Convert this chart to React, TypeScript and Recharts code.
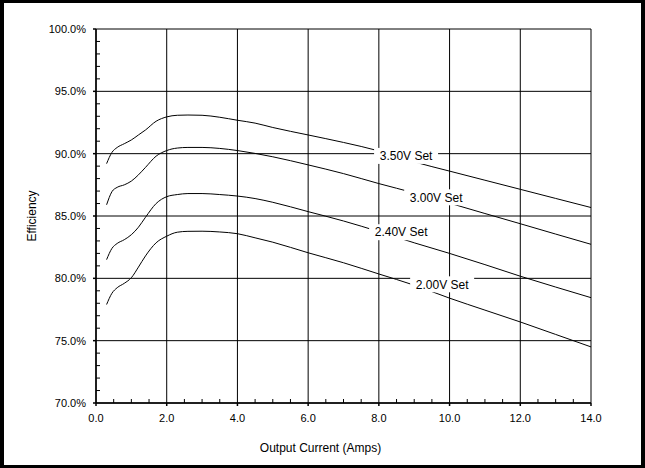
import React from 'react';
import { LineChart, Line, XAxis, YAxis, CartesianGrid, ReferenceDot, Label } from 'recharts';

// output current (A) shared by all four curves
const current = [0.3, 0.45, 0.6, 0.8, 1.0, 1.2, 1.4, 1.7, 2.0, 2.3, 2.6, 3.0, 3.5, 4.0, 4.5, 5.0, 6.0, 7.0, 8.0, 9.0, 10.0, 11.0, 12.0, 13.0, 14.0];

const eff350 = [89.2, 90.1, 90.5, 90.8, 91.1, 91.5, 91.9, 92.6, 92.95, 93.08, 93.1, 93.08, 92.92, 92.68, 92.45, 92.1, 91.5, 90.9, 90.22, 89.34, 88.6, 87.87, 87.14, 86.41, 85.68];
const eff300 = [85.9, 86.95, 87.3, 87.5, 87.8, 88.3, 88.9, 89.8, 90.25, 90.45, 90.5, 90.5, 90.42, 90.25, 90.02, 89.75, 89.1, 88.4, 87.6, 86.85, 86.03, 85.2, 84.38, 83.55, 82.73];
const eff240 = [81.5, 82.4, 82.8, 83.1, 83.5, 84.1, 84.9, 86.0, 86.55, 86.72, 86.8, 86.8, 86.72, 86.6, 86.4, 86.1, 85.35, 84.6, 83.75, 82.85, 82.0, 81.1, 80.17, 79.3, 78.45];
const eff200 = [77.9, 78.8, 79.25, 79.6, 80.05, 80.9, 81.8, 82.85, 83.38, 83.7, 83.77, 83.78, 83.72, 83.58, 83.25, 82.9, 82.05, 81.25, 80.35, 79.45, 78.41, 77.45, 76.5, 75.5, 74.5];

const xTicks = [0, 2, 4, 6, 8, 10, 12, 14];
const yTicks = [70, 75, 80, 85, 90, 95, 100];
const xMinor = [0.5, 1, 1.5, 2.5, 3, 3.5, 4.5, 5, 5.5, 6.5, 7, 7.5, 8.5, 9, 9.5, 10.5, 11, 11.5, 12.5, 13, 13.5];
const yMinor = [71, 72, 73, 74, 76, 77, 78, 79, 81, 82, 83, 84, 86, 87, 88, 89, 91, 92, 93, 94, 96, 97, 98, 99];

// curve labels: text, current, efficiency
const curveLabels = [
  { text: '3.50V Set', x: 8.77, y: 89.82 },
  { text: '3.00V Set', x: 9.62, y: 86.5 },
  { text: '2.40V Set', x: 8.63, y: 83.7 },
  { text: '2.00V Set', x: 9.79, y: 79.52 },
];

const data = current.map((c, i) => ({
  current: c,
  v350: eff350[i],
  v300: eff300[i],
  v240: eff240[i],
  v200: eff200[i],
}));

const FONT = '"Liberation Sans", Arial, sans-serif';

const LabelBox = (props: any) => {
  const { cx, cy, text } = props;
  return (
    <g>
      <rect x={cx - 32} y={cy - 8} width={64} height={16} fill="#fff" />
      <text x={cx} y={cy} dy="0.35em" textAnchor="middle" fontSize={12} fontFamily={FONT} fill="#000">
        {text}
      </text>
    </g>
  );
};

// minor ticks pointing into the plot
const XMinorTick = (props: any) => {
  const { cx, cy } = props;
  return <line x1={cx} x2={cx} y1={cy} y2={cy - 4} stroke="#000" strokeWidth={1} />;
};
const YMinorTick = (props: any) => {
  const { cx, cy } = props;
  return <line x1={cx} x2={cx + 4} y1={cy} y2={cy} stroke="#000" strokeWidth={1} />;
};

export default function App() {
  return (
    <div style={{ position: 'fixed', left: 0, top: 0, width: 645, height: 468, boxSizing: 'border-box', borderStyle: 'solid', borderColor: '#000', borderWidth: '3px 4px 3px 4px', background: '#fff' }}>
      <div style={{ position: 'absolute', left: -4, top: -3 }}>
        <LineChart width={645} height={468} data={data} margin={{ top: 29, right: 54, bottom: 15, left: 36 }}>
          <CartesianGrid stroke="#000" strokeWidth={1} />
          <XAxis
            dataKey="current"
            type="number"
            domain={[0, 14]}
            ticks={xTicks}
            tickFormatter={(v: number) => v.toFixed(1)}
            height={50}
            tickSize={3}
            tickMargin={8}
            stroke="#000"
            strokeWidth={1.5}
            tick={{ fill: '#000', fontSize: 11, fontFamily: FONT }}
          >
            <Label value="Output Current (Amps)" position="insideBottom" offset={1} dx={-23} style={{ fontSize: 12, fontFamily: FONT, fill: '#000' }} />
          </XAxis>
          <YAxis
            type="number"
            domain={[70, 100]}
            ticks={yTicks}
            tickFormatter={(v: number) => v.toFixed(1) + '%'}
            width={60}
            tickSize={3}
            tickMargin={7}
            stroke="#000"
            strokeWidth={1.5}
            tick={{ fill: '#000', fontSize: 11, fontFamily: FONT }}
          >
            <Label value="Efficiency" angle={-90} position="insideLeft" offset={-4} style={{ fontSize: 12, fontFamily: FONT, fill: '#000', textAnchor: 'middle' }} />
          </YAxis>
          {xMinor.map((t) => (
            <ReferenceDot key={'xm' + t} x={t} y={70} r={0} shape={(p: any) => <XMinorTick {...p} />} />
          ))}
          {yMinor.map((t) => (
            <ReferenceDot key={'ym' + t} x={0} y={t} r={0} shape={(p: any) => <YMinorTick {...p} />} />
          ))}
          <Line dataKey="v350" type="monotone" stroke="#000" strokeWidth={1} dot={false} isAnimationActive={false} />
          <Line dataKey="v300" type="monotone" stroke="#000" strokeWidth={1} dot={false} isAnimationActive={false} />
          <Line dataKey="v240" type="monotone" stroke="#000" strokeWidth={1} dot={false} isAnimationActive={false} />
          <Line dataKey="v200" type="monotone" stroke="#000" strokeWidth={1} dot={false} isAnimationActive={false} />
          {curveLabels.map((l) => (
            <ReferenceDot key={l.text} x={l.x} y={l.y} r={0} shape={(p: any) => <LabelBox {...p} text={l.text} />} />
          ))}
        </LineChart>
      </div>
    </div>
  );
}
